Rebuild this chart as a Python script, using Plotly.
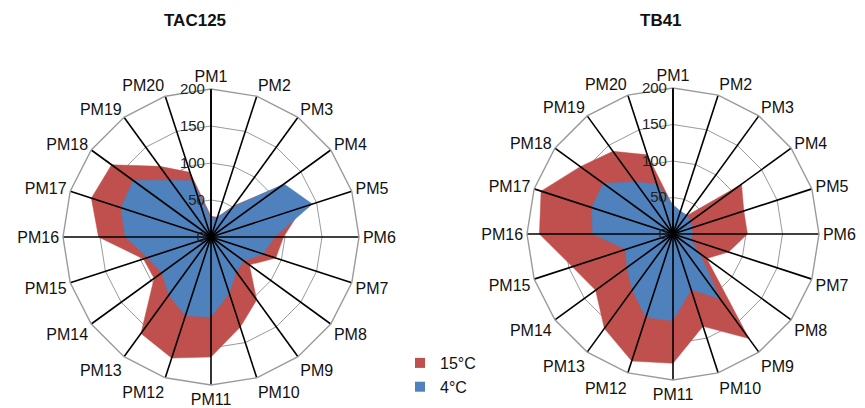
import plotly.graph_objects as go

categories = [f"PM{i}" for i in range(1, 21)]
radial_ticks = [0, 50, 100, 150, 200]

tac125_15C = [28, 28, 52, 118, 130, 98, 92, 64, 105, 128, 162, 172, 161, 95, 96, 152, 170, 166, 118, 92]
tac125_4C = [25, 28, 50, 122, 144, 86, 74, 55, 58, 80, 108, 112, 97, 82, 90, 116, 128, 130, 95, 80]

tb41_15C = [38, 25, 30, 116, 102, 102, 80, 57, 177, 133, 177, 183, 160, 131, 145, 183, 190, 157, 140, 114]
tb41_4C = [40, 33, 32, 30, 27, 27, 26, 45, 110, 80, 119, 120, 95, 78, 68, 110, 117, 118, 88, 72]

titles = ["TAC125", "TB41"]
series_names = ["15°C", "4°C"]
RED = "#C0504D"
BLUE = "#4F81BD"
FONT = "Liberation Sans, Arial, sans-serif"

# page body has an 8px margin: work in figure pixels = image pixels - 8
W, H = 857, 400
OFF = 8

fig = go.Figure()

def closed(v):
    return list(v) + [v[0]]

for sp, (red, blue) in zip(["polar", "polar2"], [(tac125_15C, tac125_4C), (tb41_15C, tb41_4C)]):
    th = closed(categories)
    fig.add_trace(go.Scatterpolar(r=closed(red), theta=th, fill="toself", mode="lines",
                                  line=dict(color=RED, width=0.5), fillcolor=RED,
                                  showlegend=False, hoverinfo="skip", subplot=sp))
    fig.add_trace(go.Scatterpolar(r=closed(blue), theta=th, fill="toself", mode="lines",
                                  line=dict(color=BLUE, width=0.5), fillcolor=BLUE,
                                  showlegend=False, hoverinfo="skip", subplot=sp))
    # spokes (angular grid drawn above fills)
    rr, tt = [], []
    for c in categories:
        rr += [radial_ticks[0], radial_ticks[-1], None]
        tt += [c, c, None]
    fig.add_trace(go.Scatterpolar(r=rr, theta=tt, mode="lines", line=dict(color="black", width=1.6),
                                  showlegend=False, hoverinfo="skip", connectgaps=False, subplot=sp))

# legend entries
for name, col in zip(series_names, [RED, BLUE]):
    fig.add_trace(go.Scatterpolar(r=[None], theta=[categories[0]], mode="markers", name=name,
                                  marker=dict(symbol="square", size=10, color=col),
                                  subplot="polar"))

def polar_layout(cx, cy, rad):
    cx -= OFF
    cy -= OFF
    return dict(
        domain=dict(x=[(cx - rad) / W, (cx + rad) / W],
                    y=[(H - cy - rad) / H, (H - cy + rad) / H]),
        gridshape="linear",
        bgcolor="white",
        radialaxis=dict(range=[0, 200], tickvals=radial_ticks, angle=90, showline=True,
                        linecolor="black", linewidth=1.6, gridcolor="#9a9a9a", gridwidth=1.4,
                        ticks="", tickfont=dict(size=15, color="#222", family=FONT),
                        side="counterclockwise", tickangle=90),
        angularaxis=dict(rotation=90, direction="clockwise", type="category",
                         categoryarray=categories, showgrid=False, showline=True,
                         linecolor="#9a9a9a", linewidth=1.4, ticks="",
                         tickfont=dict(size=16, color="#111", family=FONT)),
    )

fig.update_layout(
    width=W, height=H,
    margin=dict(l=0, r=0, t=0, b=0),
    paper_bgcolor="white",
    font=dict(family=FONT),
    polar=polar_layout(211, 237, 148),
    polar2=polar_layout(673, 234, 146),
    showlegend=True,
    legend=dict(x=392 / W, y=1 - 338 / H, xanchor="left", yanchor="top",
                font=dict(size=16, color="#111", family=FONT), bgcolor="rgba(0,0,0,0)"),
    annotations=[
        dict(text=f"<b>{titles[0]}</b>", x=(195 - OFF) / W, y=1 - (20 - OFF) / H,
             xref="paper", yref="paper", xanchor="center", yanchor="middle",
             showarrow=False, font=dict(size=17, color="#111", family=FONT)),
        dict(text=f"<b>{titles[1]}</b>", x=(661 - OFF) / W, y=1 - (20 - OFF) / H,
             xref="paper", yref="paper", xanchor="center", yanchor="middle",
             showarrow=False, font=dict(size=17, color="#111", family=FONT)),
    ],
)

fig.write_html("out.html")
